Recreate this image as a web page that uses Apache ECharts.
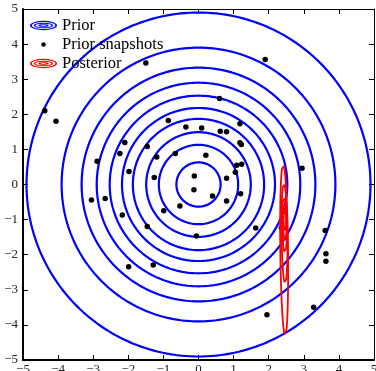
<!DOCTYPE html>
<html>
<head>
<meta charset="utf-8">
<script src="https://cdn.jsdelivr.net/npm/echarts@6/dist/echarts.min.js"></script>
<style>
html, body { margin: 0; padding: 0; background: #fff; }
#chart { width: 376px; height: 371px; }
</style>
</head>
<body>
<div id="chart"></div>
<script>
// prior contour radii (circles centred on 0,0)
var priorRadii = [0.63, 1.13, 1.49, 1.87, 2.18, 2.53, 2.90, 3.33, 3.90, 4.90];

// prior snapshots
var snapX = [-4.38, -4.06, -2.10, -2.24, -2.89, -1.98, -1.50, 0.60, -0.86, 1.18,
             -0.36, 0.09, 0.62, 0.80, -1.46, 1.18, 1.22, -1.19, -0.66, 0.21,
             1.09, 1.23, 1.05, -0.12, -1.26, 0.80, -0.13, 1.90, 2.95, -3.05,
             -2.66, -2.17, -1.99, 0.40, 1.20, 0.80, -0.53, -0.99, -1.46, -0.06,
             1.63, -1.29, 2.36, 3.61, 3.63, 3.63, 3.28, 1.95];
var snapY = [2.10, 1.80, 1.20, 0.88, 0.66, 0.37, 3.46, 2.45, 1.82, 1.73,
             1.64, 1.61, 1.52, 1.50, 1.08, 1.19, 1.14, 0.78, 0.88, 0.83,
             0.55, 0.58, 0.35, 0.24, 0.20, 0.18, -0.15, 3.56, 0.46, -0.44,
             -0.40, -0.87, -2.34, -0.33, -0.26, -0.47, -0.61, -0.75, -1.20, -1.47,
             -1.24, -2.29, -1.23, -1.31, -1.97, -2.19, -3.50, -3.71];

// posterior contours (narrow ellipses): centre, half width, half height
var postCx = [2.44, 2.45, 2.45, 2.46, 2.46];
var postCy = [-1.86, -1.39, -1.15, -1.08, -1.02];
var postA = [0.11, 0.085, 0.065, 0.05, 0.035];
var postB = [2.44, 1.41, 0.80, 0.50, 0.30];

var ticks = [-5, -4, -3, -2, -1, 0, 1, 2, 3, 4, 5];

function ellipse(cx, cy, a, b, shear) {
    var pts = [];
    for (var i = 0; i <= 240; i++) {
        var t = i / 240 * Math.PI * 2;
        var sy = b * Math.sin(t);
        pts.push([cx + a * Math.cos(t) - shear * sy, cy + sy]);
    }
    return pts;
}

// legend icon: nested elliptical rings
function ring(rx, ry, rx2, ry2) {
    var cx = 29, cy = 10;
    return 'M' + (cx - rx) + ' ' + cy + ' A' + rx + ' ' + ry + ' 0 1 0 ' + (cx + rx) + ' ' + cy +
        ' A' + rx + ' ' + ry + ' 0 1 0 ' + (cx - rx) + ' ' + cy + ' Z ' +
        'M' + (cx - rx2) + ' ' + cy + ' A' + rx2 + ' ' + ry2 + ' 0 1 1 ' + (cx + rx2) + ' ' + cy +
        ' A' + rx2 + ' ' + ry2 + ' 0 1 1 ' + (cx - rx2) + ' ' + cy + ' Z ';
}
var ringsIcon = 'path://' + ring(29, 10, 25.5, 7.4) + ring(21, 6.0, 17.5, 4.0) + ring(11, 2.6, 7, 1.0);
var dotIcon = 'path://M0 0 L0 0.01 L0.01 0 Z M58 20 L58 19.99 L57.99 20 Z ' +
    'M24 10 A5 5 0 1 0 34 10 A5 5 0 1 0 24 10 Z';

function fmt(v) { return v < 0 ? '\u2212' + (-v) : '' + v; }

var myChart = echarts.init(document.getElementById('chart'));
var series = [];

for (var i = 0; i < priorRadii.length; i++) {
    series.push({
        name: 'Prior',
        type: 'line',
        data: ellipse(0, 0, priorRadii[i], priorRadii[i], 0),
        showSymbol: false,
        symbol: 'none',
        smooth: false,
        lineStyle: { color: '#0000ff', width: 2.2 },
        itemStyle: { color: '#0000ff' },
        silent: true
    });
}

series.push({
    name: 'Prior snapshots',
    type: 'scatter',
    data: snapX.map(function (x, k) { return [x, snapY[k]]; }),
    symbolSize: 5.5,
    itemStyle: { color: '#000', opacity: 1 },
    z: 3
});

for (var j = 0; j < postCx.length; j++) {
    series.push({
        name: 'Posterior',
        type: 'line',
        data: ellipse(postCx[j], postCy[j], postA[j], postB[j], 0.012),
        showSymbol: false,
        symbol: 'none',
        lineStyle: { color: '#ff0000', width: 1.8 },
        itemStyle: { color: '#ff0000' },
        silent: true,
        z: 4
    });
}

var labelStyle = {
    fontFamily: 'Liberation Serif',
    fontSize: 13,
    color: '#222',
    formatter: fmt
};

myChart.setOption({
    animation: false,
    backgroundColor: '#fff',
    grid: { left: 23, right: 2, top: 9, bottom: 11, containLabel: false, outerBoundsMode: 'none' },
    legend: {
        orient: 'vertical',
        left: 30,
        top: 16,
        padding: 0,
        itemWidth: 27,
        itemHeight: 10,
        itemGap: 0,
        selectedMode: false,
        itemStyle: { borderWidth: 0 },
        textStyle: { fontFamily: 'Liberation Serif', fontSize: 16.5, color: '#000', lineHeight: 19 },
        data: [
            { name: 'Prior', icon: ringsIcon, itemStyle: { color: '#0000ff' } },
            { name: 'Prior snapshots', icon: dotIcon, itemStyle: { color: '#000' } },
            { name: 'Posterior', icon: ringsIcon, itemStyle: { color: '#ff0000' } }
        ]
    },
    xAxis: [{
        type: 'value', min: ticks[0], max: ticks[ticks.length - 1], interval: 1,
        axisLine: { onZero: false, lineStyle: { color: '#000', width: 2 } },
        axisTick: { inside: true, length: 5, lineStyle: { color: '#000' } },
        axisLabel: Object.assign({ margin: 3 }, labelStyle),
        splitLine: { show: false }
    }, {
        type: 'value', position: 'top', min: ticks[0], max: ticks[ticks.length - 1], interval: 1,
        axisLine: { onZero: false, lineStyle: { color: '#000', width: 1 } },
        axisTick: { inside: true, length: 5, lineStyle: { color: '#000' } },
        axisLabel: { show: false },
        splitLine: { show: false }
    }],
    yAxis: [{
        type: 'value', min: ticks[0], max: ticks[ticks.length - 1], interval: 1,
        axisLine: { onZero: false, lineStyle: { color: '#000', width: 2 } },
        axisTick: { inside: true, length: 5, lineStyle: { color: '#000' } },
        axisLabel: Object.assign({ margin: 5 }, labelStyle),
        splitLine: { show: false }
    }, {
        type: 'value', position: 'right', min: ticks[0], max: ticks[ticks.length - 1], interval: 1,
        axisLine: { onZero: false, lineStyle: { color: '#000', width: 1 } },
        axisTick: { inside: true, length: 5, lineStyle: { color: '#000' } },
        axisLabel: { show: false },
        splitLine: { show: false }
    }],
    series: series
});
</script>
</body>
</html>
